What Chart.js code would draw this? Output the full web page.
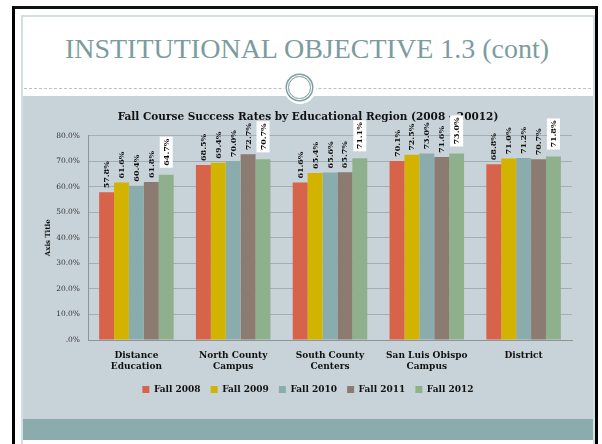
<!DOCTYPE html>
<html>
<head>
<meta charset="utf-8">
<script src="https://cdn.jsdelivr.net/npm/chart.js@4/dist/chart.umd.min.js"></script>
<style>
html,body{margin:0;padding:0;background:#fff;width:602px;height:444px;overflow:hidden}
#frame{position:absolute;left:12px;top:6px;width:580px;height:460px;border:3px solid #000;border-top-color:#111}
#inner{position:absolute;left:21px;top:15px;width:570px;height:440px;border:2px solid #d3dfe0;border-bottom:none}
#title{position:absolute;left:12px;top:33px;width:590px;text-align:center;font-family:"Liberation Serif",serif;font-size:28px;line-height:32px;color:#7b9c9e}
#dots{position:absolute;left:24px;top:88px;width:567px;border-top:1px dashed #b8c2c4}
#panel{position:absolute;left:23px;top:96px;width:570px;height:323px;background:#c8d3d9}
#band{position:absolute;left:23px;top:419px;width:570px;height:21px;background:#8aacad}
#knobBg{position:absolute;left:284px;top:72px;width:32px;height:32px;border-radius:50%;background:#fff}
#knob{position:absolute;left:288px;top:76px;width:21px;height:21px;border-radius:50%;border:1.5px solid #7f9fa0;box-shadow:0 0 0 1px #fff,0 0 0 2.5px #7f9fa0}
#wrap{position:absolute;left:24px;top:100px;width:566px;height:310px}
</style>
</head>
<body>
<div id="frame"></div>
<div id="inner"></div>
<div id="title">INSTITUTIONAL OBJECTIVE 1.3 (cont)</div>
<div id="dots"></div>
<div id="panel"></div>
<div id="band"></div>
<div id="knobBg"></div>
<div id="knob"></div>
<div id="wrap"><canvas id="chart"></canvas></div>
<script>
// categories
let regions=[["Distance","Education"],["North County","Campus"],["South County","Centers"],["San Luis Obispo","Campus"],"District"]

// success rates (%)
let fall2008=[57.8,68.5,61.6,70.1,68.8]
let fall2009=[61.6,69.4,65.4,72.5,71.0]
let fall2010=[60.4,70.0,65.6,73.0,71.2]
let fall2011=[61.8,72.7,65.7,71.6,70.7]
let fall2012=[64.7,70.7,71.1,73.0,71.8]

let seriesNames=["Fall 2008","Fall 2009","Fall 2010","Fall 2011","Fall 2012"]
let seriesColors=["#d6634a","#d2b400","#8aacad","#8b7b70","#8fb08c"]

let yTicks=[0,10,20,30,40,50,60,70,80]

const serif='"DejaVu Serif", serif'

// draw the rotated value labels over each bar
const barLabels={
id:"barLabels",
afterDatasetsDraw(chart){
let ctx=chart.ctx
ctx.save()
ctx.font='bold 8px '+serif
chart.data.datasets.forEach((ds,i)=>{
let meta=chart.getDatasetMeta(i)
meta.data.forEach((bar,j)=>{
let txt=ds.data[j].toFixed(1)+"%"
let w=ctx.measureText(txt).width
let boxed=(i===4)
let gap=boxed?9:4
ctx.save()
ctx.translate(bar.x,bar.y-gap)
ctx.rotate(-Math.PI/2)
if(boxed){
ctx.fillStyle="#fff"
ctx.fillRect(-2,-6.5,w+4,13)
}
ctx.fillStyle="#111"
ctx.textAlign="left"
ctx.textBaseline="middle"
ctx.fillText(txt,0,0.5)
ctx.restore()
})
})
ctx.restore()
}
}

let allSeries=[fall2008,fall2009,fall2010,fall2011,fall2012]

new Chart(document.getElementById("chart"),{
type:"bar",
data:{
labels:regions,
datasets:allSeries.map((d,i)=>({
label:seriesNames[i],
data:d,
backgroundColor:seriesColors[i],
borderWidth:0,
categoryPercentage:0.77,
barPercentage:1.0
}))
},
options:{
responsive:true,
maintainAspectRatio:false,
animation:false,
layout:{padding:{left:20,right:18,top:0,bottom:6}},
plugins:{
title:{
display:true,
text:"Fall Course Success Rates by Educational Region (2008 - 20012)",
color:"#111",
font:{family:serif,size:10.5,weight:"bold"},
padding:{top:11,bottom:12}
},
legend:{
position:"bottom",
labels:{
color:"#111",
font:{family:serif,size:9,weight:"bold"},
boxWidth:7,
boxHeight:7,
padding:10
}
},
tooltip:{enabled:false}
},
scales:{
x:{
grid:{display:false},
border:{color:"#8c9498",width:1},
ticks:{color:"#111",font:{family:serif,size:9,weight:"bold",lineHeight:1.2},maxRotation:0,padding:2},
afterFit(scale){scale.height=35}
},
y:{
min:0,
max:80,
afterBuildTicks(scale){scale.ticks=yTicks.map(v=>({value:v}))},
grid:{color:"#a4adb2",drawTicks:false},
border:{color:"#8c9498",width:1},
ticks:{
color:"#333",
font:{family:serif,size:7.5},
padding:8,
callback:v=>v===0?".0%":v.toFixed(1)+"%"
},
title:{
display:true,
text:"Axis Title",
color:"#111",
font:{family:serif,size:7,weight:"bold"},
padding:{top:0,bottom:0}
},
afterFit(scale){scale.width=44}
}
}
},
plugins:[barLabels]
})
</script>
</body>
</html>
